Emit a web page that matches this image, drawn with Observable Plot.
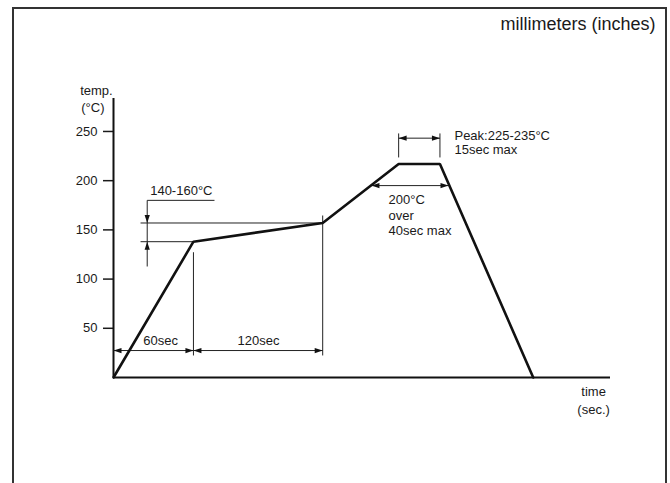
<!DOCTYPE html>
<html><head><meta charset="utf-8">
<script src="https://cdn.jsdelivr.net/npm/d3@7"></script>
<script src="https://cdn.jsdelivr.net/npm/@observablehq/plot@0.6"></script>
<style>
body{margin:0;background:#fff;}
#wrap{position:relative;width:670px;height:483px;overflow:hidden;}
#frame{position:absolute;left:12px;top:7px;width:655px;height:520px;border:2px solid #333;border-bottom:none;box-sizing:border-box;pointer-events:none;}
</style></head><body>
<div id="wrap"><div id="frame"></div></div>
<script>
// Reflow profile (schematic time units, °C)
const profileTime = [0, 60, 157, 214, 245, 315];
const profileTemp = [0, 138, 157, 217, 217, 0];
const yTicks = [50, 100, 150, 200, 250];
const yAxisTop = 283.5;
const xAxisEnd = 373;

// Preheat band 140-160 °C
const bandLow = 138, bandHigh = 157;
const bandLeaderY = 180, bandMarkerX = 25.3, bandLineStart = 20.3, bandLeaderEnd = 75.8, bandMarkerBottom = 112.8;
// Time dimensions (60sec, 120sec)
const dimTimes = [0, 60, 157];
const dimLevel = 27.4, extBottom = 22.4, ext60Top = 127.3, ext157Top = 164.6;
// Peak dimension (15sec max)
const peakTimes = [214, 245];
const peakDimLevel = 243.2, peakExtBottom = 223.6, peakExtTop = 248;
// 200°C over 40sec
const over200Level = 195, over200Times = [193.6, 251.4];

const profile = profileTime.map((t, i) => ({t, temp: profileTemp[i]}));

const segments = [
  {x1: bandLineStart, y1: bandHigh, x2: profileTime[2], y2: bandHigh},
  {x1: bandLineStart, y1: bandLow, x2: profileTime[1], y2: bandLow},
  {x1: bandMarkerX, y1: bandMarkerBottom, x2: bandMarkerX, y2: bandLeaderY},
  {x1: bandMarkerX, y1: bandLeaderY, x2: bandLeaderEnd, y2: bandLeaderY},
  {x1: dimTimes[1], y1: extBottom, x2: dimTimes[1], y2: ext60Top},
  {x1: dimTimes[2], y1: extBottom, x2: dimTimes[2], y2: ext157Top},
  {x1: dimTimes[0], y1: dimLevel, x2: dimTimes[2], y2: dimLevel},
  {x1: peakTimes[0], y1: peakExtBottom, x2: peakTimes[0], y2: peakExtTop},
  {x1: peakTimes[1], y1: peakExtBottom, x2: peakTimes[1], y2: peakExtTop},
  {x1: peakTimes[0], y1: peakDimLevel, x2: peakTimes[1], y2: peakDimLevel},
  {x1: over200Times[0], y1: over200Level, x2: over200Times[1], y2: over200Level}
];

const arrows = [
  {x: dimTimes[0], y: dimLevel, r: 270},
  {x: dimTimes[1], y: dimLevel, r: 90},
  {x: dimTimes[1], y: dimLevel, r: 270},
  {x: dimTimes[2], y: dimLevel, r: 90},
  {x: bandMarkerX, y: bandHigh, r: 180},
  {x: bandMarkerX, y: bandLow, r: 0},
  {x: peakTimes[0], y: peakDimLevel, r: 270},
  {x: peakTimes[1], y: peakDimLevel, r: 90},
  {x: over200Times[0], y: over200Level, r: 270},
  {x: over200Times[1], y: over200Level, r: 90}
];

const centerLabels = [
  {x: -12.8, y: 291, text: "temp."},
  {x: -15.5, y: 274.4, text: "(°C)"},
  {x: 50.9, y: 190, text: "140-160°C"},
  {x: 35.3, y: 36.9, text: "60sec"},
  {x: 108.8, y: 36.9, text: "120sec"},
  {x: 360.3, y: -14.9, text: "time"},
  {x: 360.3, y: -32.5, text: "(sec.)"}
];
const startLabels = [
  {x: 255.9, y: 246, text: "Peak:225-235°C"},
  {x: 255.9, y: 231.7, text: "15sec max"},
  {x: 206.4, y: 180.9, text: "200°C"},
  {x: 206.4, y: 164.6, text: "over"},
  {x: 206.4, y: 149.4, text: "40sec max"}
];
const unitsNote = [{x: 406.8, y: 358.7, text: "millimeters (inches)"}];

const arrowHead = {
  draw(ctx, l) {
    const w = 2.6;
    ctx.moveTo(0, -l);
    ctx.lineTo(-w, 0);
    ctx.lineTo(w, 0);
    ctx.closePath();
  }
};

const chart = Plot.plot({
  width: 670,
  height: 483,
  marginLeft: 113,
  marginRight: 60,
  marginTop: 98,
  marginBottom: 106,
  style: {fontFamily: "'Liberation Sans', Arial, Helvetica, sans-serif", fontSize: "13px", color: "#1a1a1a", background: "transparent"},
  x: {domain: [0, xAxisEnd], axis: null},
  y: {domain: [0, yAxisTop]},
  marks: [
    Plot.axisY({ticks: yTicks, tickSize: 10, tickPadding: 6, strokeWidth: 1.5, label: null, fontSize: 13}),
    Plot.ruleX([0], {y1: 0, y2: yAxisTop, strokeWidth: 2, stroke: "#111"}),
    Plot.ruleY([0], {x1: 0, x2: xAxisEnd, strokeWidth: 2, stroke: "#111"}),
    Plot.link(segments, {x1: "x1", y1: "y1", x2: "x2", y2: "y2", stroke: "#222", strokeWidth: 1}),
    Plot.vector(arrows, {x: "x", y: "y", rotate: "r", length: 8, anchor: "end", shape: arrowHead, fill: "#111", stroke: "none"}),
    Plot.line(profile, {x: "t", y: "temp", stroke: "#111", strokeWidth: 2.6, strokeLinejoin: "miter"}),
    Plot.text(centerLabels, {x: "x", y: "y", text: "text", textAnchor: "middle", fontSize: 13, fill: "#1a1a1a"}),
    Plot.text(startLabels, {x: "x", y: "y", text: "text", textAnchor: "start", fontSize: 13, fill: "#1a1a1a"}),
    Plot.text(unitsNote, {x: "x", y: "y", text: "text", textAnchor: "end", fontSize: 18, fill: "#1a1a1a"})
  ]
});
document.getElementById("wrap").prepend(chart);
</script>
</body></html>
